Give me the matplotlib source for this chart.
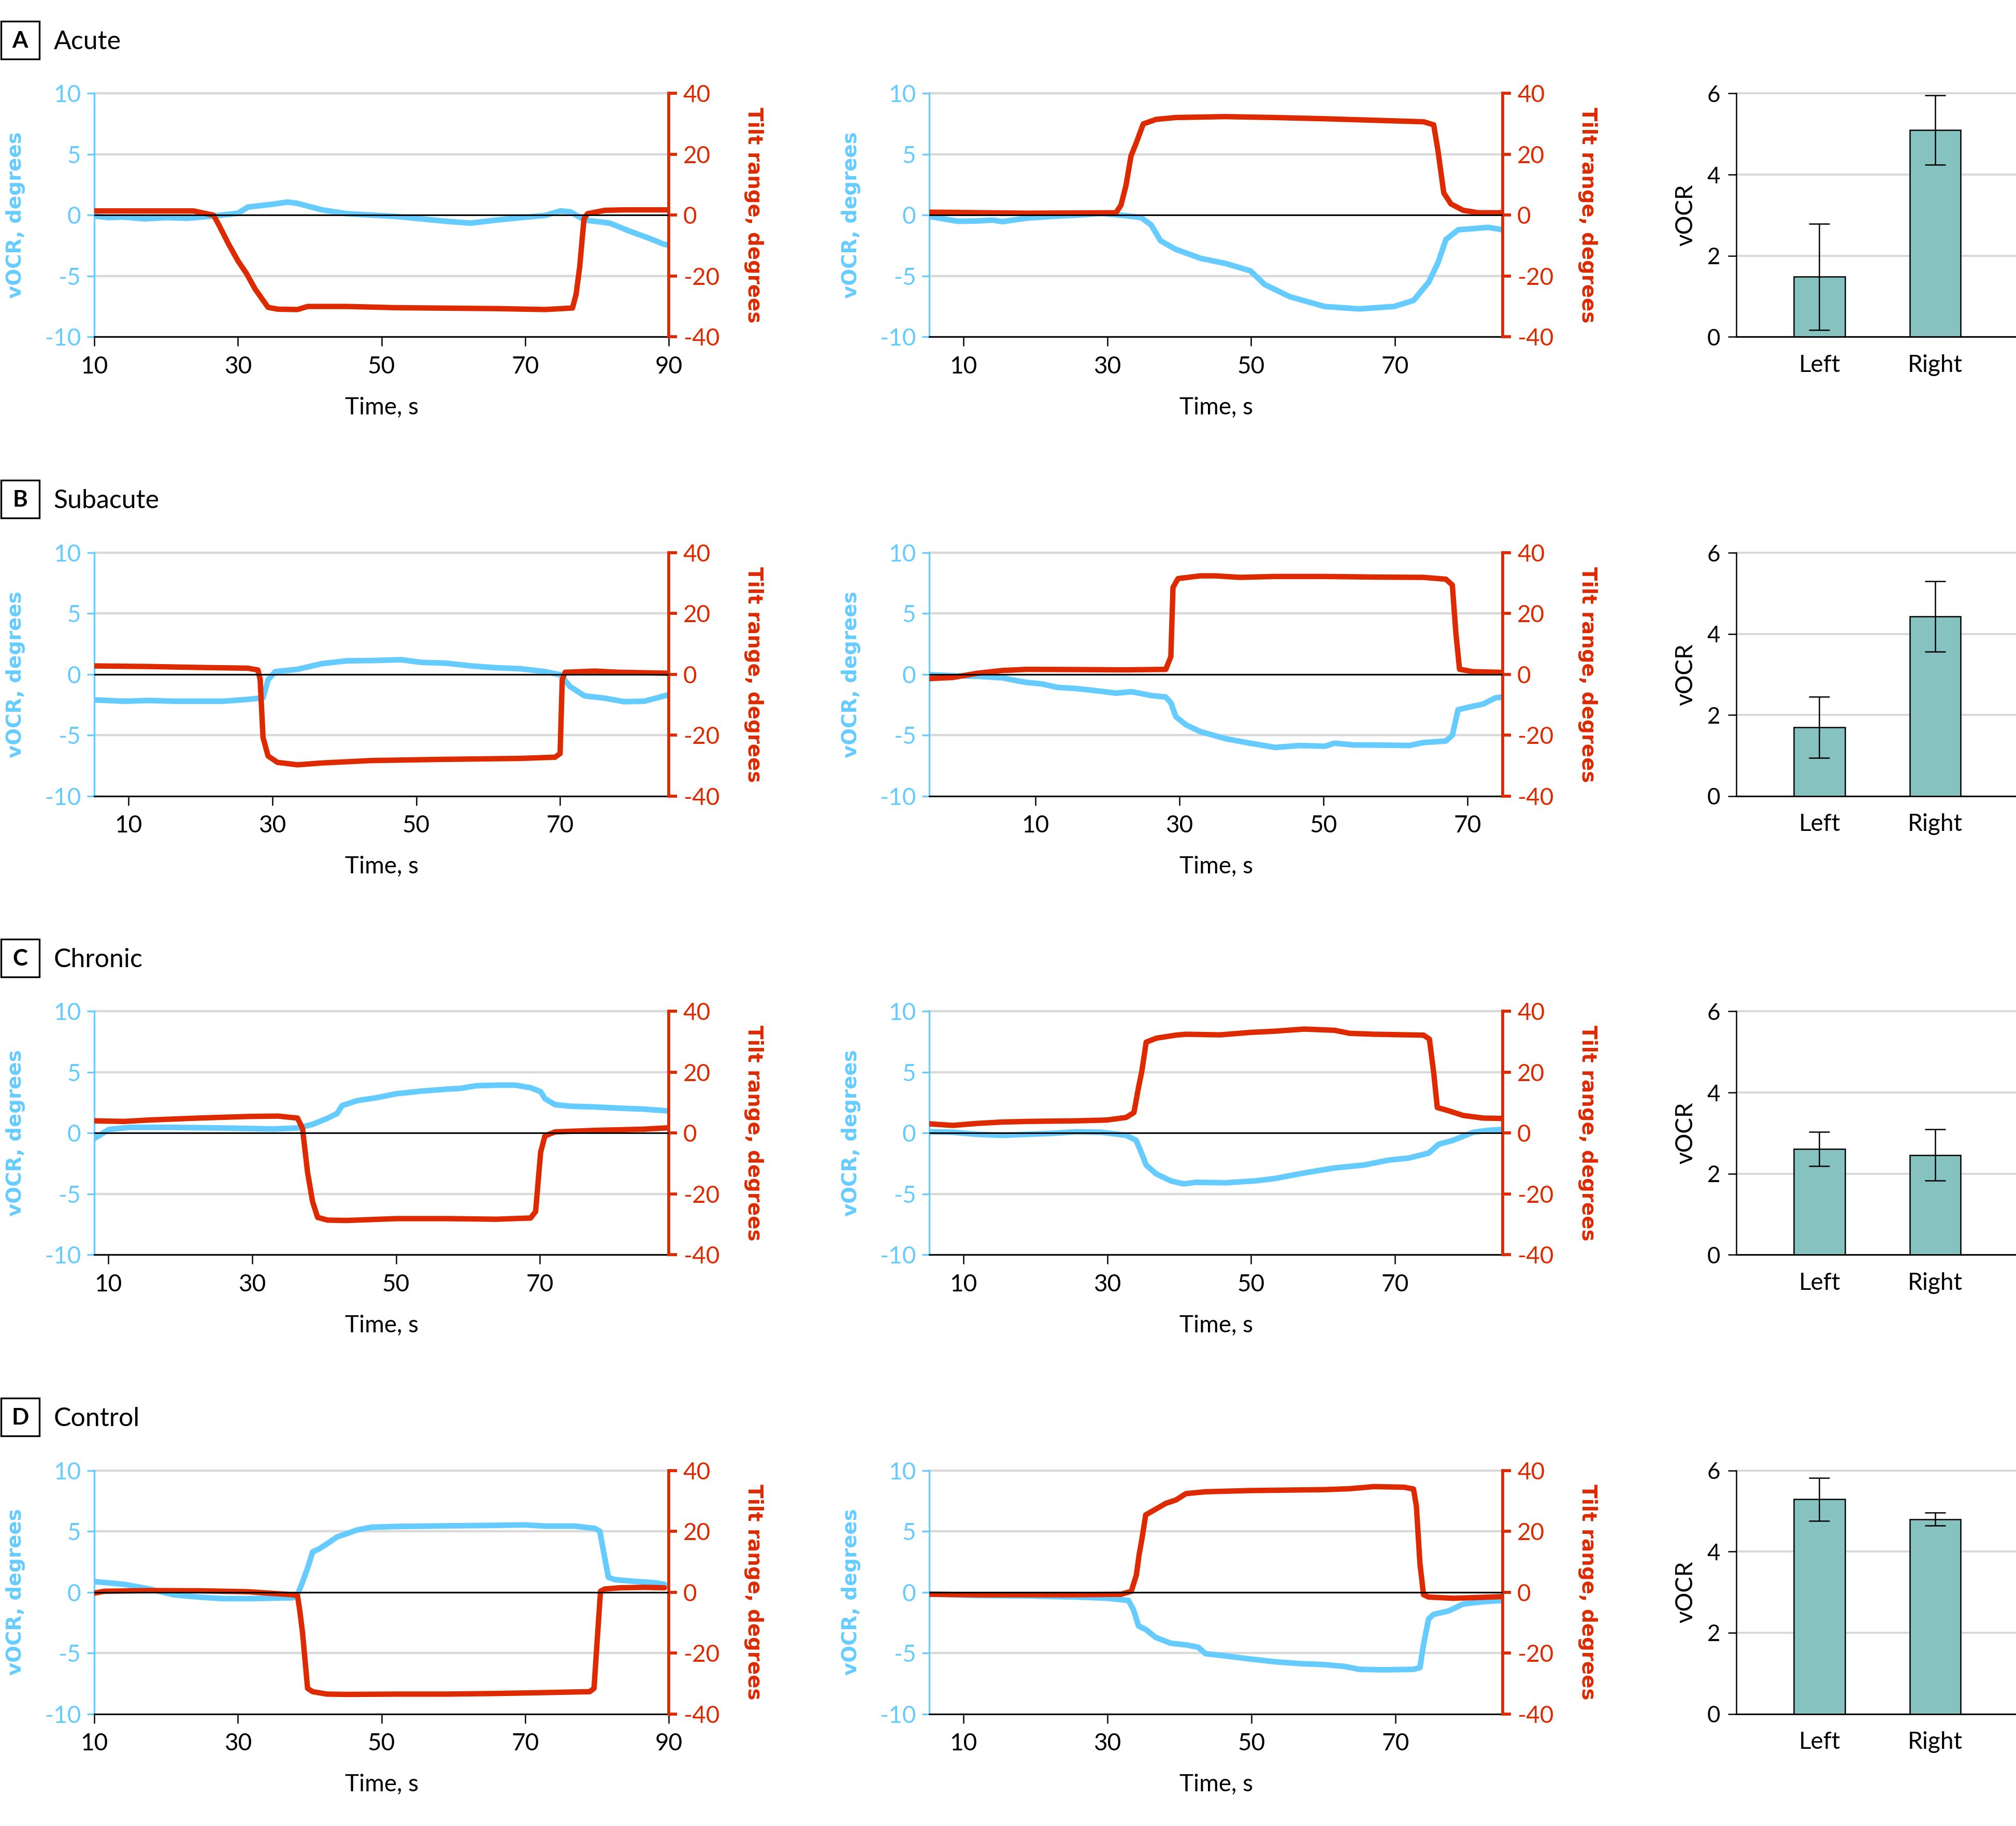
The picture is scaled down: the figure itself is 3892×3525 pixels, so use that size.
import matplotlib
matplotlib.use("Agg")
import matplotlib.pyplot as plt
from matplotlib.patches import Rectangle

plt.rcParams['font.family'] = ['Lato', 'DejaVu Sans']
plt.rcParams['axes.unicode_minus'] = False

BLUE = '#66CCFF'
RED = '#DD2A00'
TEAL = '#86C2C0'
GRID = '#D9D9D9'

# ---- data ----
groups = ['Acute', 'Subacute', 'Chronic', 'Control']
letters = ['A', 'B', 'C', 'D']
sides = ['Left', 'Right']

# A, left-tilt trial
a1_vt = [10, 12, 14, 17, 20, 23, 26.6, 30, 31.4, 34.8, 36.9, 38.3, 41.7, 45.2, 52, 59, 62.4, 66, 69.4, 72.8, 74.9, 76.3, 78.3, 81.8, 84.5, 87.3, 89.4, 90]
a1_v = [-0.07, -0.2, -0.15, -0.3, -0.2, -0.25, -0.07, 0.16, 0.67, 0.9, 1.08, 0.97, 0.44, 0.12, -0.1, -0.5, -0.65, -0.4, -0.2, -0.02, 0.35, 0.28, -0.4, -0.65, -1.3, -1.9, -2.4, -2.45]
a1_rt = [10, 23.8, 26.6, 27.3, 28.7, 30, 31.2, 32.4, 34.2, 35.6, 38.3, 39.7, 45.2, 52, 66, 72.8, 76.6, 77.1, 77.6, 78.2, 78.7, 81.1, 83.8, 90]
a1_r = [1.4, 1.4, 0, -3, -9.5, -15, -19.2, -24.3, -30.3, -30.9, -31, -30, -30, -30.4, -30.7, -31, -30.5, -26, -17, -1.2, 0.5, 1.6, 1.75, 1.75]
# A, right-tilt trial
a2_vt = [5.2, 9.2, 11.9, 14, 15.4, 18.8, 22.3, 25.7, 29.2, 32.6, 34.7, 36.1, 37.4, 39.5, 43, 46.4, 49.9, 51.9, 55.4, 60.2, 65, 69.9, 72.6, 74.7, 76, 77.1, 78.8, 80.9, 83, 85]
a2_v = [-0.1, -0.5, -0.47, -0.4, -0.53, -0.24, -0.1, 0, 0.14, -0.04, -0.2, -0.8, -2.1, -2.8, -3.55, -3.96, -4.57, -5.7, -6.7, -7.5, -7.7, -7.5, -7.0, -5.5, -3.9, -2.0, -1.2, -1.1, -1.0, -1.2]
a2_rt = [5.2, 18.8, 31.2, 31.9, 32.6, 33.3, 34, 35, 36.8, 39.5, 46.4, 53.3, 60.2, 67.1, 74, 75.4, 76, 76.8, 77.8, 79.5, 81.6, 85]
a2_r = [1.0, 0.65, 0.8, 3.3, 9.8, 19.5, 23.6, 30, 31.5, 32.1, 32.4, 32.1, 31.7, 31.2, 30.7, 29.7, 21.1, 7.3, 3.7, 1.6, 0.8, 0.8]

# B
b1_vt = [5.2, 9.4, 12.8, 16.3, 19.7, 23.2, 26.6, 28.7, 29.4, 30.4, 33.5, 36.9, 40.4, 43.8, 47.9, 50.7, 54.1, 57.6, 61, 64.5, 67.9, 70, 71.4, 73.4, 76.2, 78.9, 81.7, 85.1]
b1_v = [-2.09, -2.2, -2.14, -2.2, -2.2, -2.2, -2.05, -1.92, -0.44, 0.23, 0.42, 0.89, 1.12, 1.14, 1.21, 0.99, 0.93, 0.7, 0.55, 0.47, 0.23, -0.02, -1.0, -1.76, -1.95, -2.24, -2.2, -1.67]
b1_rt = [5.2, 12.8, 19.7, 26.6, 28, 28.3, 28.7, 29.4, 30.7, 33.5, 36.9, 43.8, 54.1, 64.5, 69.3, 70, 70.3, 70.7, 74.8, 78.2, 85.1]
b1_r = [2.8, 2.6, 2.3, 2.05, 1.45, -1.7, -20.7, -26.8, -28.9, -29.7, -29.1, -28.3, -27.9, -27.6, -27.2, -26, -1.7, 0.7, 1.1, 0.7, 0.4]
b2_vt = [-4.7, -1.5, 1.9, 5.4, 7.5, 8.8, 10.9, 13, 15.7, 19.2, 21.2, 23.3, 24.7, 26, 28.1, 28.8, 29.5, 30.9, 32.9, 36.4, 39.8, 43.3, 46.7, 50.2, 51.5, 54.3, 57, 61.9, 63.9, 67, 67.9, 68.7, 70.1, 72.2, 73.9, 74.9]
b2_v = [-0.02, -0.1, -0.15, -0.28, -0.53, -0.66, -0.78, -1.06, -1.16, -1.39, -1.54, -1.42, -1.57, -1.73, -1.86, -2.33, -3.47, -4.14, -4.7, -5.28, -5.65, -6.0, -5.84, -5.9, -5.65, -5.8, -5.8, -5.84, -5.6, -5.47, -5.0, -2.9, -2.7, -2.43, -1.92, -1.86]
b2_rt = [-4.7, -1.5, 1.9, 5.4, 8.8, 15.7, 22.6, 28.1, 28.8, 29.1, 29.8, 32.9, 35, 38.4, 43.3, 50.2, 57, 63.9, 67, 67.9, 68.4, 68.9, 70.8, 74.9]
b2_r = [-1.37, -1.0, 0.38, 1.3, 1.67, 1.6, 1.5, 1.67, 5.85, 28.6, 31.5, 32.4, 32.4, 31.9, 32.2, 32.2, 32, 31.9, 31.3, 29.4, 13.4, 1.7, 0.9, 0.68]

# C
c1_vt = [8.1, 8.8, 10.1, 12.9, 19.1, 26, 32.9, 36.3, 38.4, 40.4, 41.8, 42.5, 44.6, 47.3, 50.1, 53.5, 57, 59, 61.1, 63.9, 66.6, 68.7, 70.1, 70.7, 72.1, 74.2, 77.6, 81.1, 84.5, 87.9]
c1_v = [-0.42, -0.18, 0.31, 0.47, 0.47, 0.42, 0.34, 0.42, 0.72, 1.2, 1.61, 2.26, 2.67, 2.91, 3.24, 3.45, 3.61, 3.68, 3.89, 3.94, 3.94, 3.73, 3.4, 2.83, 2.34, 2.21, 2.15, 2.05, 1.97, 1.82]
c1_rt = [8.1, 12.2, 15.6, 22.5, 29.4, 33.6, 36.3, 37, 37.7, 38.4, 39.1, 40.5, 43.2, 50.1, 57, 63.9, 68.7, 69.4, 70.1, 70.7, 72.1, 77.6, 84.5, 87.9]
c1_r = [4.04, 3.84, 4.3, 4.95, 5.47, 5.6, 4.95, 1.56, -12.8, -22.5, -27.7, -28.6, -28.7, -28.1, -28.1, -28.3, -27.9, -25.8, -6.25, -0.9, 0.4, 0.9, 1.3, 1.76]
c2_vt = [5.2, 8.5, 11.9, 15.4, 18.8, 22.3, 25.7, 29.2, 32.6, 34, 34.7, 35.4, 36.8, 38.8, 40.6, 42.3, 46.4, 50.6, 53.3, 57.4, 61.6, 65.7, 69.2, 71.9, 74.7, 76.1, 78.1, 80.9, 83, 85]
c2_v = [0.11, 0.07, -0.1, -0.18, -0.1, -0.02, 0.11, 0.07, -0.18, -0.59, -1.56, -2.62, -3.35, -3.92, -4.17, -4.04, -4.08, -3.92, -3.73, -3.27, -2.86, -2.62, -2.21, -2.05, -1.64, -0.91, -0.59, 0.07, 0.23, 0.31]
c2_rt = [5.2, 8.5, 11.9, 15.4, 18.8, 25.7, 29.9, 32.6, 33.7, 34.3, 34.8, 35.4, 36.8, 39.5, 40.9, 45.7, 49.9, 53.3, 57.4, 61.6, 63.7, 67.1, 74, 74.8, 75.4, 75.9, 77.4, 79.5, 82.3, 85]
c2_r = [3.06, 2.54, 3.19, 3.65, 3.84, 4.04, 4.3, 5.14, 6.77, 14.6, 20.4, 29.9, 31.2, 32.2, 32.5, 32.3, 33.1, 33.5, 34.2, 33.8, 32.8, 32.5, 32.2, 30.9, 19.8, 8.4, 7.4, 5.8, 4.95, 4.82]

# D
d1_vt = [10, 14.1, 17.6, 21, 24.5, 27.9, 31.4, 34.8, 37.6, 38.3, 39, 39.7, 40.4, 41.4, 42.4, 43.8, 45.2, 46.6, 48.6, 52.1, 59, 65.9, 70, 72.8, 76.9, 79.7, 80.4, 81, 81.6, 82.5, 85.2, 88, 89.4]
d1_v = [0.87, 0.65, 0.27, -0.21, -0.4, -0.53, -0.53, -0.49, -0.46, -0.21, 0.84, 1.98, 3.3, 3.59, 3.97, 4.54, 4.82, 5.11, 5.34, 5.4, 5.45, 5.49, 5.53, 5.43, 5.43, 5.24, 5.01, 3.11, 1.22, 1.03, 0.89, 0.78, 0.65]
d1_rt = [10, 11.4, 17.6, 24.5, 31.4, 37.6, 38.3, 38.6, 39, 39.7, 40.4, 42.4, 45.2, 52.1, 59, 65.9, 72.8, 79, 79.6, 80, 80.5, 81.1, 83.2, 86.6, 89.4]
d1_r = [-0.3, 0.3, 0.53, 0.46, 0.15, -0.84, -1.2, -5.8, -13.4, -31.6, -32.7, -33.5, -33.6, -33.5, -33.5, -33.3, -33, -32.7, -31.6, -17.2, 0.3, 1.06, 1.44, 1.6, 1.44]
d2_vt = [5.2, 11.9, 18.8, 25.7, 29.8, 32.9, 33.6, 34.3, 35.3, 36.7, 38.8, 40.9, 42.6, 43.6, 46.4, 49.8, 53.3, 56.7, 60.1, 62.9, 65, 68.4, 72.5, 73.4, 73.9, 74.6, 75.3, 77.4, 79.4, 82.2, 84.9]
d2_v = [-0.15, -0.27, -0.3, -0.4, -0.49, -0.68, -1.44, -2.77, -3.06, -3.72, -4.2, -4.33, -4.52, -5.05, -5.24, -5.49, -5.72, -5.87, -5.95, -6.1, -6.34, -6.38, -6.34, -6.2, -4.29, -2.2, -1.82, -1.54, -0.97, -0.78, -0.68]
d2_rt = [5.2, 11.9, 25.7, 31.9, 33.3, 34, 34.4, 34.8, 35.3, 36.7, 38.1, 39.5, 40.9, 43.6, 49.8, 60.1, 63.6, 67, 71.2, 72.5, 72.9, 73.4, 73.9, 74.6, 78, 80.8, 84.9]
d2_r = [-0.68, -0.84, -0.84, -0.68, 0.3, 5.6, 12.5, 17.8, 25.4, 27.3, 29.2, 30.3, 32.4, 33, 33.4, 33.7, 34, 34.7, 34.5, 33.9, 28.4, 9.4, -0.84, -1.6, -2.0, -1.8, -1.44]

# visible time window of each trace panel
xlims = [[(10, 90), (5.25, 85)],
         [(5.25, 85.1), (-4.74, 74.9)],
         [(8.07, 87.9), (5.24, 85)],
         [(10, 90), (5.25, 84.9)]]
time_ticks = [10, 30, 50, 70, 90]

# mean vOCR and error per group (Left, Right)
bar_means = [[1.48, 5.10], [1.70, 4.43], [2.61, 2.46], [5.29, 4.80]]
bar_errs = [[1.31, 0.86], [0.75, 0.87], [0.42, 0.63], [0.53, 0.16]]

traces = [[(a1_vt, a1_v, a1_rt, a1_r), (a2_vt, a2_v, a2_rt, a2_r)],
          [(b1_vt, b1_v, b1_rt, b1_r), (b2_vt, b2_v, b2_rt, b2_r)],
          [(c1_vt, c1_v, c1_rt, c1_r), (c2_vt, c2_v, c2_rt, c2_r)],
          [(d1_vt, d1_v, d1_rt, d1_r), (d2_vt, d2_v, d2_rt, d2_r)]]

# ---- layout ----
fig = plt.figure(figsize=(3892 / 300, 3525 / 300), dpi=300)
row_y0 = [0.8155, 0.5640, 0.3128, 0.0614]
row_h = 0.1333
col_x = [(0.0468, 0.2849), (0.4610, 0.2844)]
bar_x = (0.8613, 0.1387)
row_shift = 0.25135


def trace_panel(rect, tv, v, tr, r, xlim):
    ax = fig.add_axes(rect)
    ax.plot(tv, v, color=BLUE, lw=2.6, solid_capstyle='round',
            solid_joinstyle='round', zorder=2)
    ax.set_ylim(-10, 10)
    ax.set_yticks([-10, -5, 0, 5, 10])
    ax.set_xlim(*xlim)
    ax.set_xticks([t for t in time_ticks if xlim[0] <= t <= xlim[1] + 0.01])
    ax.set_axisbelow(True)
    ax.yaxis.grid(True, color=GRID, lw=1.05)
    for gl in ax.get_ygridlines():
        gl.set_clip_on(False)
    for s in ['top', 'right']:
        ax.spines[s].set_visible(False)
    ax.spines['left'].set_color(BLUE)
    ax.spines['left'].set_linewidth(0.8)
    ax.spines['bottom'].set_linewidth(0.7)
    ax.tick_params(axis='y', colors=BLUE, length=3.4, width=0.8, pad=2.8, labelsize=11)
    ax.tick_params(axis='x', colors='black', length=4.2, width=0.6, pad=4.5, labelsize=11)

    ax2 = ax.twinx()
    ax2.plot(tr, r, color=RED, lw=2.5, solid_capstyle='round',
             solid_joinstyle='round', zorder=2)
    ax2.axhline(0, color='black', lw=0.7, zorder=3)
    ax2.set_ylim(-40, 40)
    ax2.set_yticks([-40, -20, 0, 20, 40])
    for s in ['top', 'left', 'bottom']:
        ax2.spines[s].set_visible(False)
    ax2.spines['right'].set_color(RED)
    ax2.spines['right'].set_linewidth(1.4)
    ax2.tick_params(axis='y', colors=RED, length=3.8, width=1.4, pad=2.9, labelsize=11)

    ax.text(-0.137, 0.5, 'vOCR, degrees', transform=ax.transAxes, rotation=90,
            ha='center', va='center', color=BLUE, fontsize=9.3,
            fontweight='bold', family='DejaVu Sans')
    ax.text(1.148, 0.5, 'Tilt range, degrees', transform=ax.transAxes, rotation=-90,
            ha='center', va='center', color=RED, fontsize=9.3,
            fontweight='bold', family='DejaVu Sans')
    ax.text(0.5, -0.245, 'Time, s', transform=ax.transAxes, ha='center', va='top',
            fontsize=11)


def bar_panel(rect, means, errs):
    ax = fig.add_axes(rect)
    ax.bar([0, 1], means, width=0.44, color=TEAL, edgecolor='black', linewidth=0.6,
           yerr=errs, capsize=4.7,
           error_kw=dict(elinewidth=0.6, capthick=0.6, ecolor='black'), zorder=2)
    ax.set_xlim(-0.717, 1.698)
    ax.set_ylim(0, 6)
    ax.set_yticks([0, 2, 4, 6])
    ax.set_xticks([0, 1])
    ax.set_xticklabels(sides)
    ax.set_axisbelow(True)
    ax.yaxis.grid(True, color=GRID, lw=0.95)
    for gl in ax.get_ygridlines():
        gl.set_clip_on(False)
    for s in ['top', 'right']:
        ax.spines[s].set_visible(False)
    ax.spines['left'].set_linewidth(0.6)
    ax.spines['bottom'].set_linewidth(0.7)
    ax.tick_params(axis='x', length=0, pad=8, labelsize=11)
    ax.tick_params(axis='y', length=3.9, width=0.6, pad=3.6, labelsize=10.5)
    ax.text(-0.181, 0.5, 'vOCR', transform=ax.transAxes, rotation=90,
            ha='center', va='center', fontsize=11)


for i in range(4):
    y0 = row_y0[i]
    for j in range(2):
        tv, v, tr, r = traces[i][j]
        trace_panel([col_x[j][0], y0, col_x[j][1], row_h], tv, v, tr, r, xlims[i][j])
    bar_panel([bar_x[0], y0, bar_x[1], row_h], bar_means[i], bar_errs[i])

    # panel letter box and group name
    off = i * row_shift
    fig.add_artist(Rectangle((0.0005, 0.96766 - off), 0.019, 0.02071,
                             transform=fig.transFigure, fill=False,
                             ec='black', lw=0.8))
    fig.text(0.0100, 0.9739 - off, letters[i], ha='center', va='baseline',
             fontsize=10.5, fontweight='bold')
    fig.text(0.0266, 0.9730 - off, groups[i], ha='left', va='baseline', fontsize=12)

fig.savefig('out.png', dpi=300)
